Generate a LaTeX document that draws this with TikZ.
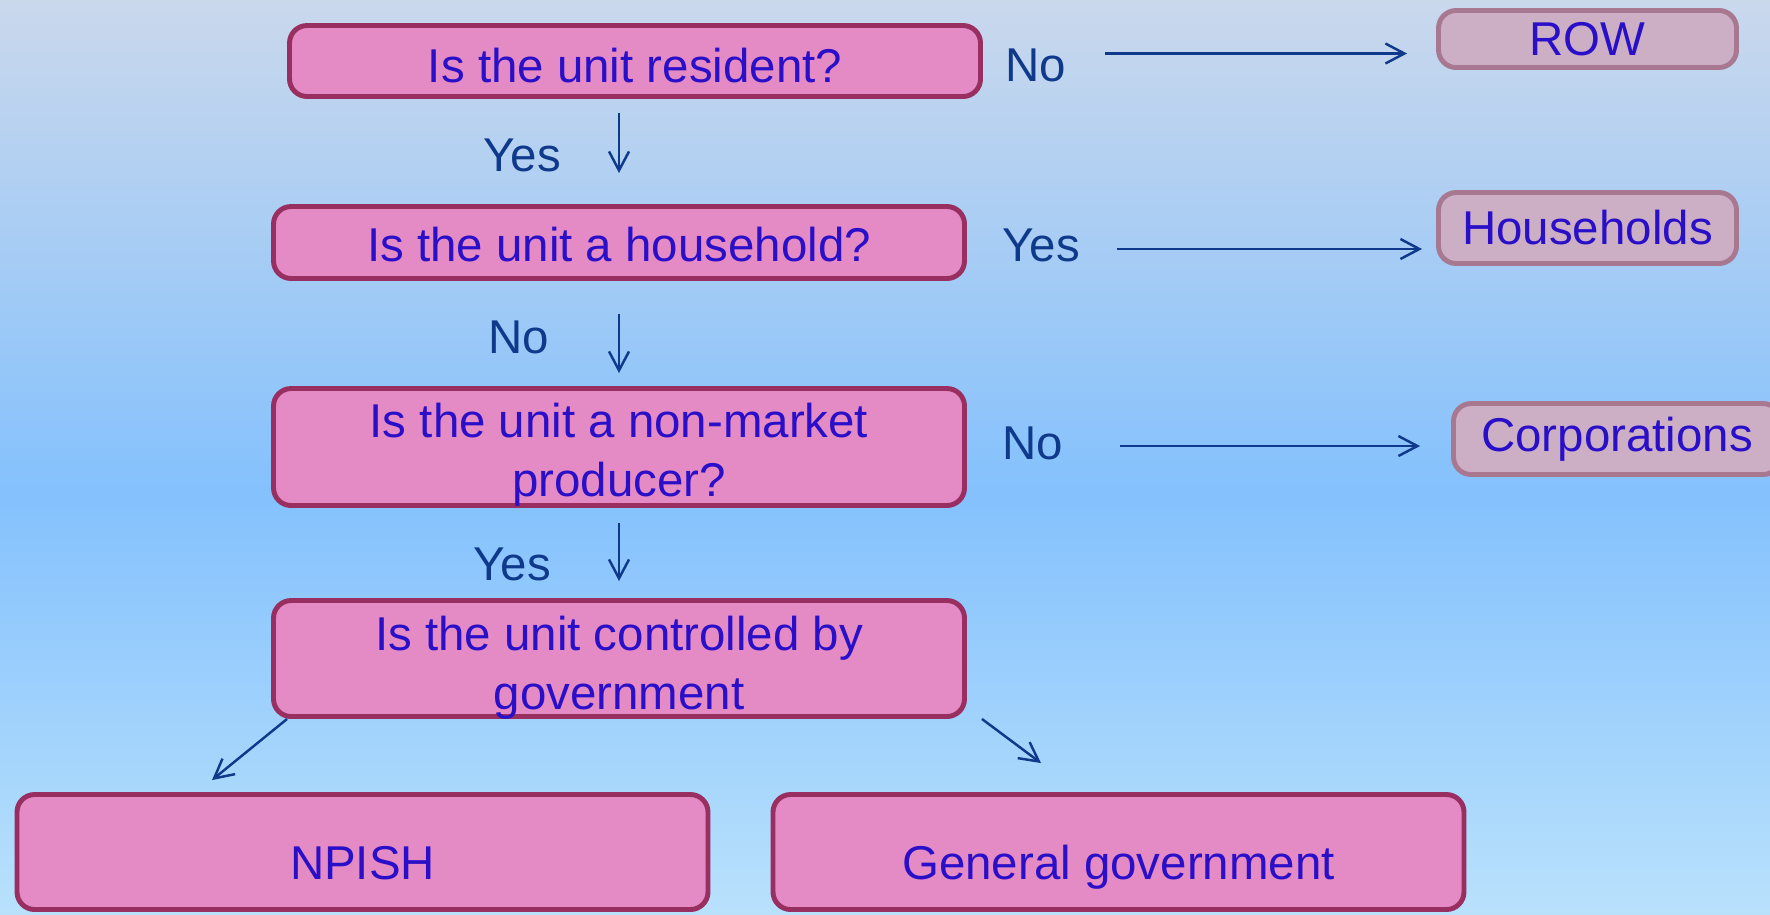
\documentclass[tikz,border=0pt]{standalone}
\usepackage{fontspec}
\setmainfont{Liberation Sans}
\usetikzlibrary{arrows.meta}
\definecolor{qfill}{HTML}{E48AC4}
\definecolor{qline}{HTML}{992E60}
\definecolor{rfill}{HTML}{CCAFC4}
\definecolor{rline}{HTML}{A87890}
\definecolor{qtext}{HTML}{2A0FC8}
\definecolor{ltext}{HTML}{0F3A8C}
\definecolor{bgtop}{HTML}{CAD8EC}
\definecolor{bgmid}{HTML}{84C1FD}
\definecolor{bgbot}{HTML}{B9E1FC}
\pgfdeclareverticalshading{bgshade}{100bp}{color(0bp)=(bgbot); color(25bp)=(bgbot); color(48bp)=(bgmid); color(75bp)=(bgtop); color(100bp)=(bgtop)}
\begin{document}
\begin{tikzpicture}[every node/.style={font=\fontsize{13.5}{16.8}\selectfont},
  qbox/.style={draw=qline,fill=qfill,line width=1.4pt,rounded corners=5pt,minimum width=6.91cm,text=qtext,align=center,inner sep=0pt,text depth=0pt},
  rbox/.style={draw=rline,fill=rfill,line width=1.4pt,rounded corners=5pt,minimum width=2.98cm,minimum height=0.57cm,text=qtext,inner sep=0pt},
  lbl/.style={text=ltext,inner sep=0pt},
  arr/.style={-{Straight Barb[length=1.9mm,width=2mm]},line width=0.7pt,ltext}]
\shade[shading=bgshade] (0,0) rectangle (17.7,-9.14);
\useasboundingbox (0,0) rectangle (17.7,-9.14);
\node[qbox,minimum height=0.71cm,text height=12.4pt] (q1) at (6.35,-0.61) {Is the unit resident?};
\node[qbox,minimum height=0.72cm,text height=11pt] (q2) at (6.19,-2.425) {Is the unit a household?};
\node[qbox,minimum height=1.17cm,text height=28.4pt] (q3) at (6.19,-4.47) {Is the unit a non-market\\producer?};
\node[qbox,minimum height=1.16cm,text height=29pt] (q4) at (6.19,-6.585) {Is the unit controlled by\\government};
\node[qbox,minimum height=1.15cm,text height=15.9pt] (npish) at (3.625,-8.52) {NPISH};
\node[qbox,minimum height=1.15cm,text height=15.9pt] (gengov) at (11.185,-8.52) {General government};
\node[rbox] (row) at (15.875,-0.39) {ROW};
\node[rbox,minimum height=0.71cm] (hh) at (15.875,-2.28) {Households};
\node[rbox,minimum height=0.71cm,minimum width=3.27cm] (corp) at (16.17,-4.39) {Corporations};
\node[lbl] (no1) at (10.36,-0.65) {No};
\node[lbl] (yes1) at (5.22,-1.55) {Yes};
\node[lbl] (yes2) at (10.41,-2.45) {Yes};
\node[lbl] (no2) at (5.19,-3.37) {No};
\node[lbl] (no3) at (10.33,-4.43) {No};
\node[lbl] (yes3) at (5.12,-5.64) {Yes};
\foreach \a/\b/\s/\e in {q1/q2/1.4/3.1,q2/q3/3.3/1.3,q3/q4/1.5/1.7}
  \draw[arr,shorten <=\s mm,shorten >=\e mm] (\a.south -| \b) -- (\b.north);
\draw[arr,shorten <=3.8mm,shorten >=2.9mm] ([yshift=1.15mm]no1.east) -- ([yshift=1.15mm]no1.east -| row.west);
\draw[arr,shorten <=3.7mm,shorten >=1.4mm] ([yshift=-0.4mm]yes2.east) -- ([yshift=-0.4mm]yes2.east -| hh.west);
\draw[arr,shorten <=5.6mm,shorten >=3.1mm] ([yshift=-0.3mm]no3.east) -- ([yshift=-0.3mm]no3.east -| corp.west);
\draw[arr] ([xshift=1.6mm]q4.south west) -- ([shift={(-1.505,0.12)}]npish.north);
\draw[arr] ([xshift=1.5mm]q4.south east) -- ([shift={(-0.775,0.29)}]gengov.north);
\end{tikzpicture}
\end{document}
